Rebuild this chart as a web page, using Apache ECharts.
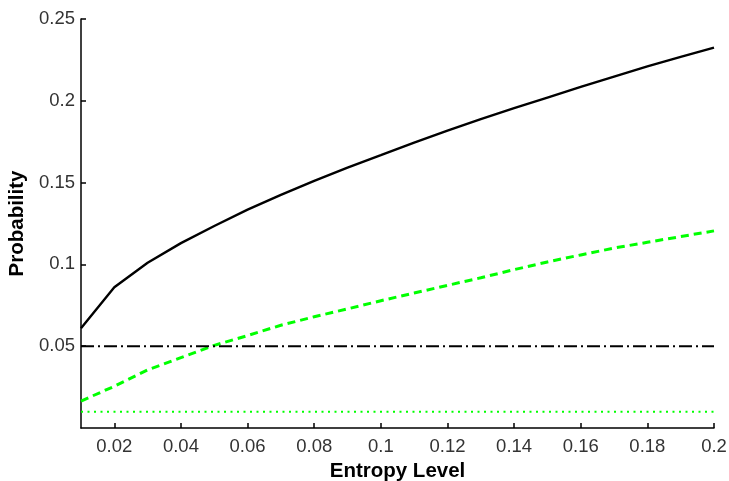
<!DOCTYPE html>
<html>
<head>
<meta charset="utf-8">
<script src="https://cdn.jsdelivr.net/npm/echarts@6/dist/echarts.min.js"></script>
<style>html,body{margin:0;padding:0;background:#fff;}#c{width:729px;height:481px;}</style>
</head>
<body>
<div id="c"></div>
<script>
var entropy = [0.01,0.02,0.03,0.04,0.05,0.06,0.07,0.08,0.09,0.10,0.11,0.12,0.13,0.14,0.15,0.16,0.17,0.18,0.19,0.20];
var probBlack = [0.061,0.086,0.101,0.113,0.1235,0.1335,0.1425,0.151,0.1592,0.1668,0.1745,0.1818,0.1888,0.1955,0.202,0.2085,0.2148,0.221,0.2268,0.2325];
var probGreen = [0.0165,0.0255,0.0355,0.043,0.0505,0.0565,0.0628,0.068,0.0728,0.0778,0.0825,0.0872,0.0918,0.0968,0.1015,0.1058,0.110,0.1135,0.117,0.1205];
var levelBlack = 0.05;
var levelGreen = 0.01;
var xTicks = [0.02,0.04,0.06,0.08,0.1,0.12,0.14,0.16,0.18,0.2];
var yTicks = [0.05,0.1,0.15,0.2,0.25];

function pair(xs, ys){ return xs.map(function(x,i){ return [x, ys[i]]; }); }
function flat(xs, v){ return [[xs[0], v],[xs[xs.length-1], v]]; }
function fmt(v){ return String(+(+v).toFixed(3)); }

var chart = echarts.init(document.getElementById('c'));
var labelStyle = {color:'#333', fontFamily:'Liberation Sans, Arial, sans-serif', fontSize:18.5};
chart.setOption({
  animation:false,
  backgroundColor:'#fff',
  grid:{left:81, right:15, top:19, bottom:53, containLabel:false, outerBoundsMode:'none'},
  xAxis:{
    type:'value', min:0.01, max:0.2,
    name:'Entropy Level', nameLocation:'middle', nameGap:27,
    nameTextStyle:{color:'#000', fontFamily:'Liberation Sans, Arial, sans-serif', fontSize:20.5, fontWeight:'bold'},
    axisLine:{show:true, onZero:false, lineStyle:{color:'#000', width:1.5}},
    axisTick:{show:true, inside:true, length:5, customValues:xTicks, lineStyle:{color:'#000', width:1.5}},
    axisLabel:Object.assign({margin:9, customValues:xTicks, formatter:fmt}, labelStyle),
    splitLine:{show:false}
  },
  yAxis:{
    type:'value', min:0, max:0.25,
    name:'Probability', nameLocation:'middle', nameGap:50, nameRotate:90,
    nameTextStyle:{color:'#000', fontFamily:'Liberation Sans, Arial, sans-serif', fontSize:20.5, fontWeight:'bold'},
    axisLine:{show:true, onZero:false, lineStyle:{color:'#000', width:1.5}},
    axisTick:{show:true, inside:true, length:5, customValues:yTicks, lineStyle:{color:'#000', width:1.5}},
    axisLabel:Object.assign({margin:6, customValues:yTicks, formatter:fmt}, labelStyle),
    splitLine:{show:false}
  },
  series:[
    {type:'line', data:pair(entropy, probBlack), showSymbol:false, symbol:'none', lineStyle:{color:'#000', width:2.4}},
    {type:'line', data:pair(entropy, probGreen), showSymbol:false, symbol:'none', lineStyle:{color:'#00ff00', width:3, type:[8,5]}},
    {type:'line', data:flat(entropy, levelBlack), showSymbol:false, symbol:'none', lineStyle:{color:'#000', width:2, type:[13,4,2,4]}},
    {type:'line', data:flat(entropy, levelGreen), showSymbol:false, symbol:'none', lineStyle:{color:'#00ff00', width:2, type:[2,4.5]}}
  ]
});
</script>
</body>
</html>
